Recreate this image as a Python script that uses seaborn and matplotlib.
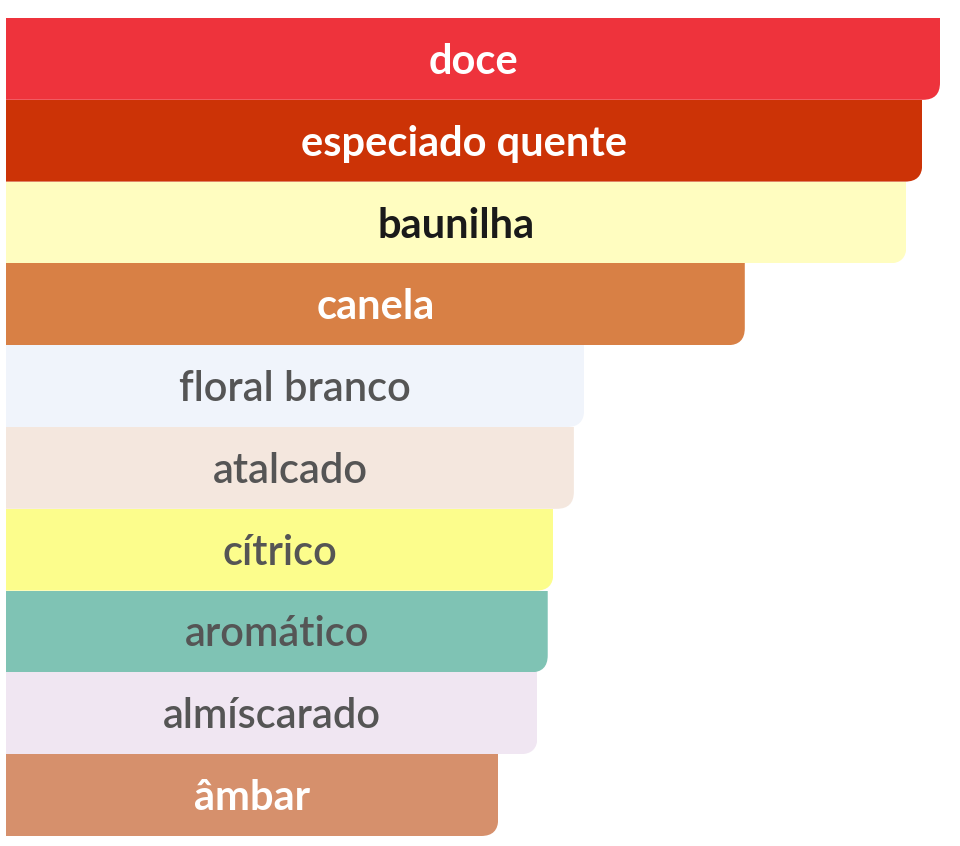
import matplotlib
matplotlib.use("Agg")
import matplotlib.pyplot as plt
import seaborn as sns
import pandas as pd
from matplotlib.patches import FancyBboxPatch

categories = ["doce", "especiado quente", "baunilha", "canela", "floral branco",
              "atalcado", "cítrico", "aromático", "almíscarado", "âmbar"]
values = [100.0, 98.1, 96.4, 79.1, 61.9, 60.8, 58.6, 58.0, 56.9, 52.7]
colors = ["#EE333C", "#CC3306", "#FFFDC0", "#D88045", "#F0F4FB",
          "#F4E7DE", "#FCFD8C", "#7FC3B4", "#F0E6F2", "#D6906C"]
text_colors = ["white", "white", "#1a1a1a", "white", "#555555",
               "#555555", "#555555", "#555555", "#555555", "white"]
text_weights = ["bold", "bold", "bold", "bold", "semibold",
                "semibold", "semibold", "semibold", "semibold", "bold"]

df = pd.DataFrame({"cat": categories, "val": values})

sns.set_theme(style="white")
plt.rcParams["font.family"] = ["Lato", "DejaVu Sans"]

W, H = 960, 846
fig = plt.figure(figsize=(W / 100, H / 100), dpi=100)
left_px, right_px, top_px, bot_px = 6, 940, 18, 836
ax = fig.add_axes([left_px / W, (H - bot_px) / H, (right_px - left_px) / W, (bot_px - top_px) / H])

sns.barplot(data=df, x="val", y="cat", hue="cat", palette=colors, legend=False,
            orient="h", width=1.0, ax=ax, saturation=1, linewidth=0)
ax.set_xlim(0, 100)
ax.set_ylim(len(categories) - 0.5, -0.5)
ax.axis("off")

px_per_x = (right_px - left_px) / 100.0
px_per_y = (bot_px - top_px) / len(categories)
r_px = 17
r_x = r_px / px_per_x
aspect = (1 / px_per_y) / (1 / px_per_x)
y_shift = 3 / px_per_y

for i, bar in enumerate(ax.patches):
    x0, y0 = bar.get_x(), bar.get_y()
    w, h = bar.get_width(), bar.get_height()
    # clip box extended left and upward so only bottom-right corner is rounded
    clip = FancyBboxPatch((x0 - 2 * r_x, y0 - 0.5), w + 2 * r_x, h + 0.5,
                          boxstyle=f"round,pad=0,rounding_size={r_x}",
                          mutation_aspect=aspect, transform=ax.transData,
                          facecolor="none", edgecolor="none")
    bar.set_clip_path(clip)
    ax.text(x0 + w / 2, y0 + h / 2 + y_shift, categories[i], ha="center", va="center",
            fontsize=30, color=text_colors[i], fontweight=text_weights[i])

fig.savefig("out.png", dpi=100)
